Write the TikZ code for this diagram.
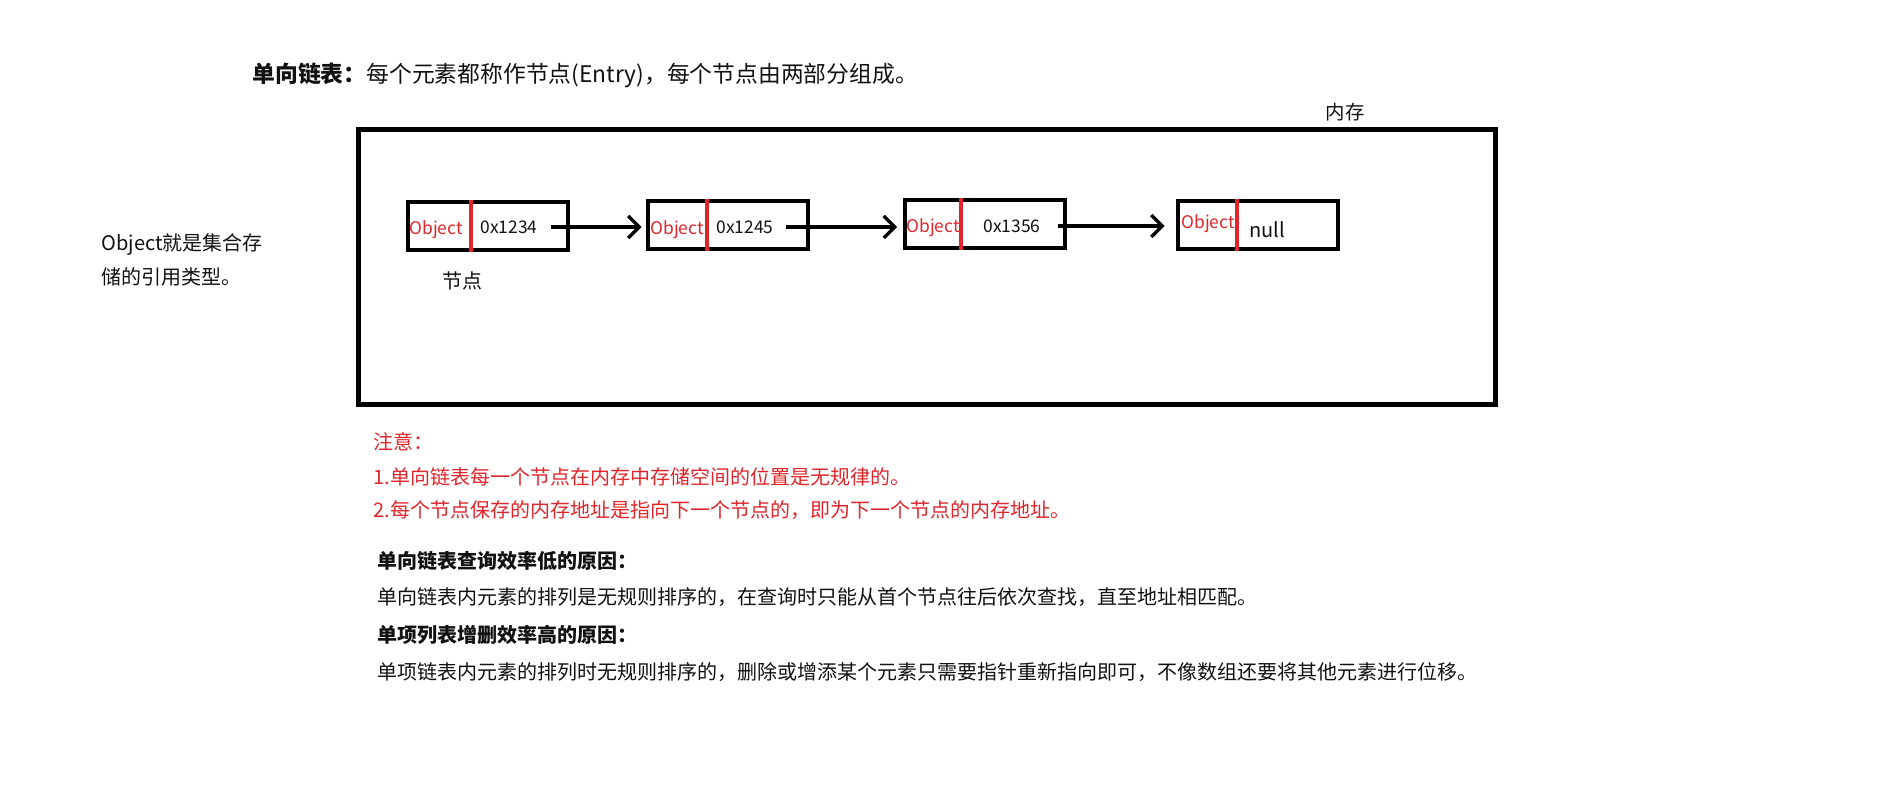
\documentclass[tikz,border=0pt]{standalone}
\usepackage{fontspec}
\setmainfont{Noto Sans CJK SC}
\usepackage{xcolor}
\usetikzlibrary{arrows.meta,positioning}
\definecolor{memred}{HTML}{E0262B}
\definecolor{memink}{HTML}{111111}
\newcommand{\bodysize}{\fontsize{10pt}{12pt}\selectfont}
\newcommand{\cellsize}{\fontsize{8.7pt}{10pt}\selectfont}

\begin{document}
\begin{tikzpicture}[x=0.5pt, y=-0.5pt, text=memink,
    cell/.style={draw, line width=2pt, minimum width=80pt, minimum height=24pt, inner sep=0pt},
    divider/.style={draw=memred, line width=1.8pt},
    objtext/.style={text=memred, font=\cellsize, inner sep=0pt},
    addrtext/.style={font=\cellsize, inner sep=0pt},
    link/.style={-{Straight Barb[length=5.5pt, width=11pt]}, line width=1.6pt},
    plain/.style={font=\bodysize, inner sep=0pt, anchor=west}]
  \useasboundingbox (0,0) rectangle (1894,791);

  \node[plain, font=\fontsize{11.4pt}{13pt}\selectfont] (title) at (252,75) {{\bfseries 单向链表：}每个元素都称作节点(Entry)，每个节点由两部分组成。};

  % memory area
  \node[draw, line width=2.5pt, minimum width=568.5pt, minimum height=137.5pt, inner sep=0pt] (mem) at (927,267) {};
  \node[font=\fontsize{9.7pt}{11pt}\selectfont, inner sep=0pt] (memlabel) at (1345,112) {内存};

  % the four entries
  \node[cell] (n1) at (487.5,226.5) {};
  \node[cell] (n2) at (727.5,225) {};
  \node[cell] (n3) at (985,224) {};
  \node[cell] (n4) at (1257.5,225) {};
  \draw[divider] ([xshift=-8.25pt]n1.north) -- ([xshift=-8.25pt]n1.south);
  \draw[divider] ([xshift=-10.25pt]n2.north) -- ([xshift=-10.25pt]n2.south);
  \draw[divider] ([xshift=-12pt]n3.north) -- ([xshift=-12pt]n3.south);
  \draw[divider] ([xshift=-10.25pt]n4.north) -- ([xshift=-10.25pt]n4.south);

  \node[objtext] (o1) at (436,230) {Object};
  \node[addrtext] (a1) at (509,227) {0x1234};
  \node[objtext] (o2) at (677,230) {Object};
  \node[addrtext] (a2) at (745,227) {0x1245};
  \node[objtext] (o3) at (933,228) {Object};
  \node[addrtext] (a3) at (1012,226) {0x1356};
  \node[objtext] (o4) at (1208,224) {Object};
  \node[font=\bodysize, inner sep=0pt] (a4) at (1267,230) {null};

  \draw[link, shorten >=2pt] ([xshift=6.5pt]a1.east) -- (a1.east -| n2.west);
  \draw[link, shorten >=3pt] ([xshift=6pt]a2.east) -- (a2.east -| n3.west);
  \draw[link, shorten >=5.5pt] ([xshift=8.5pt]a3.east) -- (a3.east -| n4.west);

  \node[font=\bodysize, inner sep=0pt] (entry) at (462,281) {节点};

  \node[plain, align=left, font=\fontsize{10pt}{17pt}\selectfont] (side) at (101,260) {Object就是集合存\\储的引用类型。};

  % notes
  \node[plain, text=memred] (note0) at (373,442) {注意：};
  \node[plain, text=memred] (note1) at (373,477) {1.单向链表每一个节点在内存中存储空间的位置是无规律的。};
  \node[plain, text=memred] (note2) at (373,510) {2.每个节点保存的内存地址是指向下一个节点的，即为下一个节点的内存地址。};

  \node[plain, font=\bodysize\bfseries] (why1) at (377,561) {单向链表查询效率低的原因：};
  \node[plain] (text1) at (377,597) {单向链表内元素的排列是无规则排序的，在查询时只能从首个节点往后依次查找，直至地址相匹配。};
  \node[plain, font=\bodysize\bfseries] (why2) at (377,635) {单项列表增删效率高的原因：};
  \node[plain] (text2) at (377,672) {单项链表内元素的排列时无规则排序的，删除或增添某个元素只需要指针重新指向即可，不像数组还要将其他元素进行位移。};
\end{tikzpicture}
\end{document}
